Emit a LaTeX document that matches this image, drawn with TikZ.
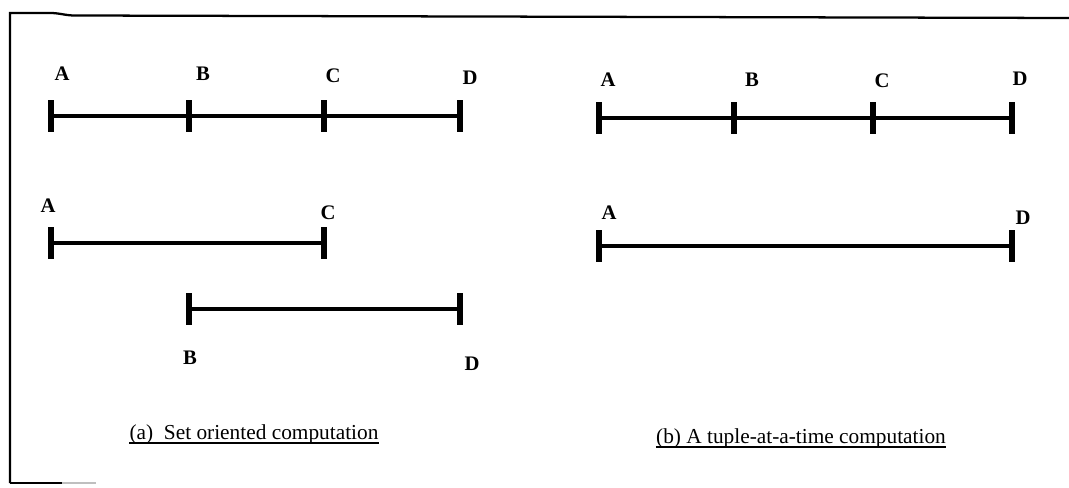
\documentclass[tikz,border=0pt]{standalone}
\usepackage{fontspec}
\setmainfont{Liberation Serif}
\usepackage{tikz}
\usetikzlibrary{positioning}
\tikzset{
	tick/.style={fill=black, inner sep=0pt, minimum width=4.8pt, minimum height=24pt},
	seg/.style={line width=3.7pt},
	lab/.style={font=\bfseries\fontsize{15.5}{18}\selectfont, inner sep=0pt},
	legende/.style={font=\fontsize{16}{19}\selectfont, inner sep=0pt, anchor=base},
	souligne/.style={line width=1.3pt},
	frame/.style={line width=1.7pt}
}

\begin{document}
\begin{tikzpicture}[x=0.75pt,y=-0.75pt]
	\useasboundingbox (0,0) rectangle (1069,488);
	%Cadre
	\draw[frame] (10,483) -- (10,13) -- (50,13) to[out=0,in=180] (75,15.5) -- (1069,18);
	\draw[frame] (10,483) -- (62,483);
	\draw[frame,gray!50] (62,483) -- (96,483);

	%(a) ticks
	\node[tick] (aA1) at (51,116) {};
	\node[tick] (aB1) at (189,116) {};
	\node[tick] (aC1) at (324,116) {};
	\node[tick] (aD1) at (460,116) {};
	\node[tick] (aA2) at (51,243) {};
	\node[tick] (aC2) at (324,243) {};
	\node[tick] (aB3) at (189,309) {};
	\node[tick] (aD3) at (460,309) {};
	%(b) ticks
	\node[tick] (bA1) at (599,118) {};
	\node[tick] (bB1) at (734,118) {};
	\node[tick] (bC1) at (873,118) {};
	\node[tick] (bD1) at (1012,118) {};
	\node[tick] (bA2) at (599,246) {};
	\node[tick] (bD2) at (1012,246) {};

	%Segments
	\draw[seg] (aA1)--(aB1);
	\draw[seg] (aB1)--(aC1);
	\draw[seg] (aC1)--(aD1);
	\draw[seg] (aA2)--(aC2);
	\draw[seg] (aB3)--(aD3);
	\draw[seg] (bA1)--(bB1);
	\draw[seg] (bB1)--(bC1);
	\draw[seg] (bC1)--(bD1);
	\draw[seg] (bA2)--(bD2);

	%Labels
	\node[lab] (laA1) at (62,74) {A};
	\node[lab] (laB1) at (203,74) {B};
	\node[lab] (laC1) at (333,76) {C};
	\node[lab] (laD1) at (470,78) {D};
	\node[lab] (laA2) at (48,206) {A};
	\node[lab] (laC2) at (328,213) {C};
	\node[lab] (laB3) at (190,358) {B};
	\node[lab] (laD3) at (472,364) {D};
	\node[lab] (lbA1) at (608,80) {A};
	\node[lab] (lbB1) at (752,80) {B};
	\node[lab] (lbC1) at (882,81) {C};
	\node[lab] (lbD1) at (1020,79) {D};
	\node[lab] (lbA2) at (609,213) {A};
	\node[lab] (lbD2) at (1023,218) {D};

	%Legendes
	\node[legende] (capa) at (254,439) {(a)~ Set oriented computation};
	\node[legende] (capb) at (801,443) {(b) A tuple-at-a-time computation};
	\draw[souligne] ([yshift=-3pt]capa.base west) -- ([yshift=-3pt]capa.base east);
	\draw[souligne] ([yshift=-3pt]capb.base west) -- ([yshift=-3pt]capb.base east);
\end{tikzpicture}
\end{document}
